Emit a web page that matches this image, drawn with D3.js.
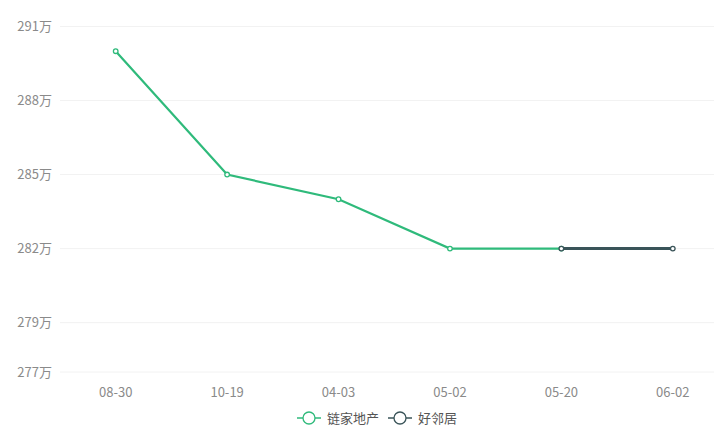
<!DOCTYPE html>
<html>
<head>
<meta charset="utf-8">
<script src="https://cdn.jsdelivr.net/npm/d3@7"></script>
<style>
  body { margin: 0; background: #fff; }
  text { font-family: "Noto Sans CJK SC", "Noto Sans", sans-serif; }
</style>
</head>
<body>
<svg id="chart" width="714" height="443"></svg>
<script>
var dates = ["08-30", "10-19", "04-03", "05-02", "05-20", "06-02"];
var yTicks = [277, 279, 282, 285, 288, 291];
var lianjia = [290, 285, 284, 282, 282, null];
var haolinju = [null, null, null, null, 282, 282];
var seriesNames = ["链家地产", "好邻居"];
var seriesColors = ["#2fba7b", "#3a5459"];

var svg = d3.select("#chart");
var plotLeft = 60, plotRight = 728.5, plotTop = 26.5, plotBottom = 372;

var x = d3.scaleBand().domain(dates).range([plotLeft, plotRight]);
var y = d3.scaleLinear().domain([277, 291]).range([plotBottom, plotTop]);
var cx = function(d) { return x(d) + x.bandwidth() / 2; };

// grid
svg.append("g").selectAll("line")
    .data(yTicks)
    .enter().append("line")
    .attr("x1", plotLeft).attr("x2", 714)
    .attr("y1", function(d) { return y(d); })
    .attr("y2", function(d) { return y(d); })
    .attr("stroke", "#f2f2f2")
    .attr("stroke-width", 1);

// y labels
svg.append("g").selectAll("text")
    .data(yTicks)
    .enter().append("text")
    .attr("x", 52)
    .attr("y", function(d) { return y(d) + 4.5; })
    .attr("text-anchor", "end")
    .attr("fill", "#8a8a8a")
    .attr("font-size", 13)
    .text(function(d) { return d + "万"; });

// x labels
svg.append("g").selectAll("text")
    .data(dates)
    .enter().append("text")
    .attr("x", cx)
    .attr("y", 397)
    .attr("text-anchor", "middle")
    .attr("fill", "#8a8a8a")
    .attr("font-size", 13)
    .text(function(d) { return d; });

var line = d3.line()
    .defined(function(d) { return d.v != null; })
    .x(function(d) { return cx(d.k); })
    .y(function(d) { return y(d.v); });

[lianjia, haolinju].forEach(function(vals, i) {
    var pts = dates.map(function(k, j) { return { k: k, v: vals[j] }; });
    svg.append("path")
        .datum(pts)
        .attr("d", line)
        .attr("fill", "none")
        .attr("stroke", seriesColors[i])
        .attr("stroke-width", i == 1 ? 3 : 2.2);
    svg.append("g").selectAll("circle")
        .data(pts.filter(function(d) { return d.v != null; }))
        .enter().append("circle")
        .attr("cx", function(d) { return cx(d.k); })
        .attr("cy", function(d) { return y(d.v); })
        .attr("r", 2.3)
        .attr("fill", "#fff")
        .attr("stroke", seriesColors[i])
        .attr("stroke-width", 1.3);
});

// legend
var legendX = [297, 388];
seriesNames.forEach(function(name, i) {
    var g = svg.append("g").attr("transform", "translate(" + legendX[i] + ",418)");
    g.append("line").attr("x1", 0).attr("x2", 24).attr("y1", 0).attr("y2", 0)
        .attr("stroke", seriesColors[i]).attr("stroke-width", 1.5);
    g.append("circle").attr("cx", 12).attr("cy", 0).attr("r", 6)
        .attr("fill", "#fff").attr("stroke", seriesColors[i]).attr("stroke-width", 1.3);
    g.append("text").attr("x", 30).attr("y", 5)
        .attr("fill", "#555").attr("font-size", 13).text(name);
});
</script>
</body>
</html>
